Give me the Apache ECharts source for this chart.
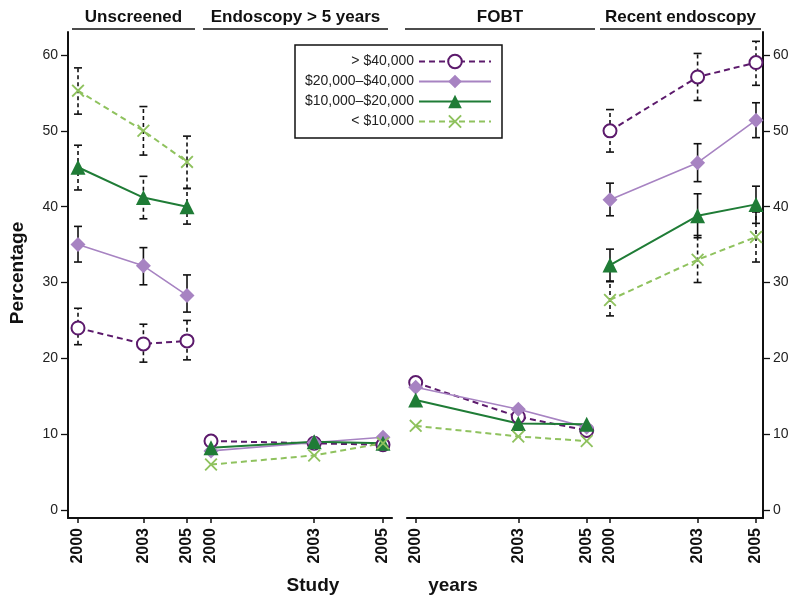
<!DOCTYPE html>
<html><head><meta charset="utf-8">
<script src="https://cdn.jsdelivr.net/npm/echarts@6/dist/echarts.min.js"></script>
<style>html,body{margin:0;padding:0;background:#fff}#c{width:800px;height:606px}</style>
</head><body><div id="c"></div>
<script>
// ---------- data ----------
const years = [2000, 2003, 2005];
const panels = ['Unscreened', 'Endoscopy > 5 years', 'FOBT', 'Recent endoscopy'];
const incomeGroups = ['> $40,000', '$20,000–$40,000', '$10,000–$20,000', '< $10,000'];
const yTicks = [0, 10, 20, 30, 40, 50, 60];

// values per panel (Unscreened, Endoscopy>5y, FOBT, Recent endoscopy) x years
const over40k      = [[24.0, 21.9, 22.3], [9.1, 8.8, 8.6], [16.8, 12.3, 10.5], [50.0, 57.1, 59.0]];
const over40kLow   = [[21.8, 19.5, 19.8], null, null, [47.2, 54.0, 56.0]];
const over40kHigh  = [[26.6, 24.5, 25.0], null, null, [52.8, 60.2, 61.8]];

const from20to40k     = [[35.0, 32.2, 28.3], [7.8, 8.9, 9.6], [16.2, 13.3, 10.9], [40.9, 45.8, 51.4]];
const from20to40kLow  = [[32.7, 29.7, 26.1], null, null, [38.8, 43.3, 49.1]];
const from20to40kHigh = [[37.4, 34.6, 31.0], null, null, [43.1, 48.3, 53.7]];

const from10to20k     = [[45.2, 41.2, 40.0], [8.2, 9.0, 8.8], [14.5, 11.4, 11.3], [32.3, 38.8, 40.3]];
const from10to20kLow  = [[42.2, 38.4, 37.7], null, null, [30.2, 35.9, 37.8]];
const from10to20kHigh = [[48.1, 44.0, 42.4], null, null, [34.4, 41.7, 42.7]];

const under10k     = [[55.3, 50.0, 45.9], [6.0, 7.2, 8.8], [11.1, 9.7, 9.1], [27.7, 33.0, 36.0]];
const under10kLow  = [[52.2, 46.8, 42.4], null, null, [25.6, 30.0, 32.7]];
const under10kHigh = [[58.3, 53.2, 49.3], null, null, [30.1, 36.2, 39.3]];

// ---------- styling / layout ----------
const FONT = '"Liberation Sans", Arial, Helvetica, sans-serif';
const xShape = 'path://M0,1 L1,0 L5,4 L9,0 L10,1 L6,5 L10,9 L9,10 L5,6 L1,10 L0,9 L4,5 Z';
const groupDefs = [
  {vals: over40k, lo: over40kLow, hi: over40kHigh, color: '#5c1a6c', dash: [6, 4], width: 2, symbol: 'emptyCircle', size: 13, errDash: [true, true]},
  {vals: from20to40k, lo: from20to40kLow, hi: from20to40kHigh, color: '#a783c2', dash: 'solid', width: 1.6, symbol: 'diamond', size: 15, errDash: [false, false]},
  {vals: from10to20k, lo: from10to20kLow, hi: from10to20kHigh, color: '#1f7c36', dash: 'solid', width: 2, symbol: 'triangle', size: 15, errDash: [true, false]},
  {vals: under10k, lo: under10kLow, hi: under10kHigh, color: '#8fc25e', dash: [6, 4], width: 2, symbol: xShape, size: 13, errDash: [true, true]}
];
const gridBox = [[68, 131], [199, 193], [407, 191], [598, 165]];
const xRange = [[1999.541, 2005.55], [1999.651, 2005.262], [1999.746, 2005.33], [1999.589, 2005.24]];
const gTop = 32, gHeight = 486;
const yMin = -1.05, yMax = 63.03;

const grids = [], xAxes = [], yAxes = [], series = [];
panels.forEach((p, i) => {
  grids.push({left: gridBox[i][0], width: gridBox[i][1], top: gTop, height: gHeight});
  xAxes.push({
    type: 'value', gridIndex: i, min: xRange[i][0], max: xRange[i][1],
    splitLine: {show: false},
    axisLine: {onZero: false, lineStyle: {color: '#111', width: 2.2}},
    axisTick: {customValues: years, length: 5, lineStyle: {color: '#111', width: 1.5}},
    axisLabel: {customValues: years, formatter: v => String(v), rotate: 90, margin: 10, fontFamily: FONT, fontSize: 16, fontWeight: 'bold', color: '#111'}
  });
  const showY = (i === 0 || i === 3);
  yAxes.push({
    type: 'value', gridIndex: i, min: yMin, max: yMax,
    position: i === 3 ? 'right' : 'left',
    show: showY,
    splitLine: {show: false},
    axisLine: {show: showY, onZero: false, lineStyle: {color: '#111', width: 2}},
    axisTick: {show: showY, customValues: yTicks, length: 7, lineStyle: {color: '#111', width: 1.3}},
    axisLabel: {show: showY, customValues: yTicks, formatter: v => String(v), margin: 10, fontFamily: FONT, fontSize: 14, color: '#222'}
  });
});

function errRenderer(dashed) {
  return function (params, api) {
    const x = api.value(0), lo = api.value(1), hi = api.value(2);
    const a = api.coord([x, lo]), b = api.coord([x, hi]);
    const w = 4;
    const capStyle = {stroke: '#111', lineWidth: 1.6};
    return {type: 'group', children: [
      {type: 'line', shape: {x1: a[0], y1: a[1], x2: b[0], y2: b[1]}, style: {stroke: '#111', lineWidth: 1.6, lineDash: dashed ? [4, 3] : null}},
      {type: 'line', shape: {x1: a[0] - w, y1: a[1], x2: a[0] + w, y2: a[1]}, style: capStyle},
      {type: 'line', shape: {x1: b[0] - w, y1: b[1], x2: b[0] + w, y2: b[1]}, style: capStyle}
    ]};
  };
}

groupDefs.forEach((g, gi) => {
  panels.forEach((p, pi) => {
    series.push({
      type: 'line', name: incomeGroups[gi], xAxisIndex: pi, yAxisIndex: pi,
      data: years.map((yr, j) => [yr, g.vals[pi][j]]),
      symbol: g.symbol, symbolSize: g.size, showSymbol: true,
      lineStyle: {color: g.color, width: g.width, type: g.dash},
      itemStyle: {color: g.color, borderWidth: 2},
      emphasis: {disabled: true}, z: 3
    });
    if (g.lo[pi]) {
      const ei = pi === 0 ? 0 : 1;
      series.push({
        type: 'custom', name: incomeGroups[gi] + ' CI', xAxisIndex: pi, yAxisIndex: pi,
        renderItem: errRenderer(g.errDash[ei]),
        encode: {x: 0, y: [1, 2]},
        data: years.map((yr, j) => [yr, g.lo[pi][j], g.hi[pi][j]]),
        z: 2, silent: true
      });
    }
  });
});

// header titles and underlines
const headerSpan = [[72, 195], [203, 388], [405, 595], [600, 761]];
const graphics = [];
panels.forEach((p, i) => {
  const cx = (headerSpan[i][0] + headerSpan[i][1]) / 2;
  graphics.push({type: 'text', x: cx, y: 17, style: {text: p, font: 'bold 17px ' + FONT, fill: '#111', align: 'center', verticalAlign: 'middle', textAlign: 'center', textVerticalAlign: 'middle'}});
  graphics.push({type: 'line', shape: {x1: headerSpan[i][0], y1: 29, x2: headerSpan[i][1], y2: 29}, style: {stroke: '#111', lineWidth: 1.6}});
});
graphics.push({type: 'text', x: 18, y: 273, rotation: Math.PI / 2, style: {text: 'Percentage', font: 'bold 19px ' + FONT, fill: '#111', align: 'center', verticalAlign: 'middle', textAlign: 'center', textVerticalAlign: 'middle'}});
graphics.push({type: 'text', x: 313, y: 586, style: {text: 'Study', font: 'bold 19px ' + FONT, fill: '#111', align: 'center', verticalAlign: 'middle', textAlign: 'center', textVerticalAlign: 'middle'}});
graphics.push({type: 'text', x: 453, y: 586, style: {text: 'years', font: 'bold 19px ' + FONT, fill: '#111', align: 'center', verticalAlign: 'middle', textAlign: 'center', textVerticalAlign: 'middle'}});

const chart = echarts.init(document.getElementById('c'), null, {renderer: 'canvas'});
chart.setOption({
  animation: false,
  backgroundColor: '#fff',
  grid: grids, xAxis: xAxes, yAxis: yAxes, series: series,
  legend: {
    data: incomeGroups, orient: 'vertical', align: 'right',
    left: 295, top: 45, padding: [8, 10, 8, 10],
    itemWidth: 72, itemHeight: 17, itemGap: 3,
    borderColor: '#111', borderWidth: 1.5, backgroundColor: '#fff',
    textStyle: {fontFamily: FONT, fontSize: 14, color: '#222', lineHeight: 17},
    selectedMode: false
  },
  graphic: graphics
});
</script></body></html>
